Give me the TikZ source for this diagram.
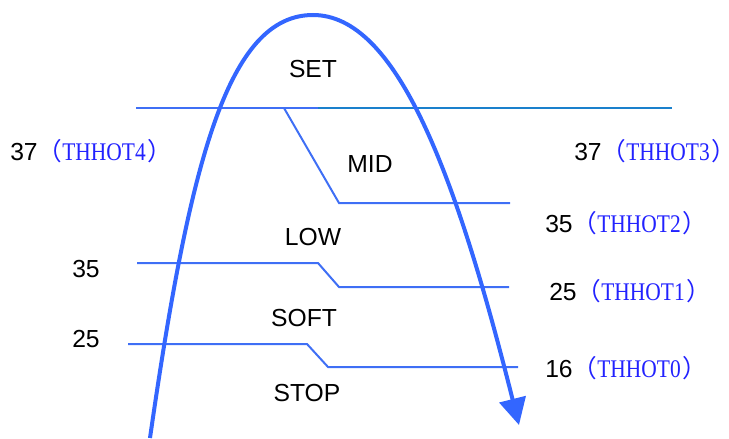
\documentclass[tikz,border=0pt]{standalone}
\usepackage{fontspec}
\usepackage{graphicx}
\setmainfont{Liberation Sans}
\newfontfamily\cjkfont{Noto Sans CJK SC}
\newfontfamily\thfont{Liberation Serif}
\usetikzlibrary{arrows.meta}
\definecolor{curveblue}{HTML}{3366FF}
\definecolor{lineblue}{HTML}{3F6FF5}
\definecolor{topblue}{HTML}{1A80CC}
\definecolor{labblue}{HTML}{2222FF}
\newcommand{\thh}[1]{\textcolor{labblue}{{\cjkfont （}\scalebox{0.87}[1.03]{\thfont #1}\hspace{1.5pt}\makebox[0.5em][l]{\cjkfont ）}}}
\tikzset{
  lab/.style={inner sep=0pt, font=\fontsize{18.5}{22}\selectfont, text=black},
  lvl/.style={draw=lineblue, line width=1.5pt},
  arch/.style={draw=curveblue, line width=3pt, -{Triangle[length=20pt,width=20pt]}},
}
\begin{document}
\begin{tikzpicture}[x=0.75pt,y=-0.75pt]
\useasboundingbox (0,0) rectangle (729,439);
% level lines
\coordinate (t1) at (136,108);
\coordinate (t2) at (318,108);
\coordinate (t3) at (672,108);
\draw[lvl] (t1) -- (t2);
\draw[draw=topblue, line width=1.5pt] (t2) -- (t3);
\coordinate (m1) at (284,108);
\coordinate (m2) at (339,203);
\coordinate (m3) at (510,203);
\draw[lvl] (m1) -- (m2) -- (m3);
\coordinate (l1) at (137,263);
\coordinate (l2) at (318,263);
\coordinate (l3) at (339,287);
\coordinate (l4) at (509,287);
\draw[lvl] (l1) -- (l2) -- (l3) -- (l4);
\coordinate (s1) at (128,344);
\coordinate (s2) at (307,344);
\coordinate (s3) at (328,367);
\coordinate (s4) at (518,367);
\draw[lvl] (s1) -- (s2) -- (s3) -- (s4);
% arch
\coordinate (a0) at (150,438);
\coordinate (apeak) at (313,15);
\coordinate (aend) at (519,425);
\draw[arch] (a0) .. controls (190,160) and (228,15) .. (apeak)
  .. controls (396,15) and (455,170) .. (aend);
% zone labels
\node[lab, anchor=base] (set) at (313,77) {SET};
\node[lab, anchor=base] (mid) at (370,172) {MID};
\node[lab, anchor=base] (low) at (313,245) {LOW};
\node[lab, anchor=base] (soft) at (304,326) {SOFT};
\node[lab, anchor=base] (stop) at (307,401) {STOP};
% threshold labels
\node[lab, anchor=base west] (h4) at (10,160) {37\thh{THHOT4}};
\node[lab, anchor=base west] (h3) at (574,160) {37\thh{THHOT3}};
\node[lab, anchor=base west] (h2) at (545,232) {35\thh{THHOT2}};
\node[lab, anchor=base west] (h1) at (549,300) {25\thh{THHOT1}};
\node[lab, anchor=base west] (h0) at (545,377) {16\thh{THHOT0}};
\node[lab, anchor=base west] (v35) at (72,277) {35};
\node[lab, anchor=base west] (v25) at (72,347) {25};
\end{tikzpicture}
\end{document}
